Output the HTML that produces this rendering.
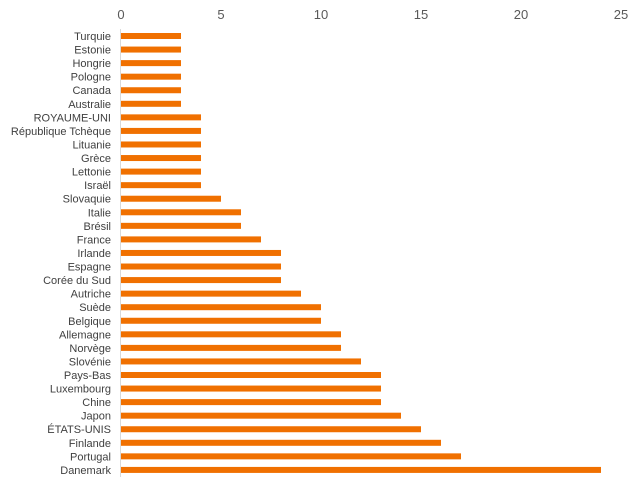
<!DOCTYPE html>
<html><head><meta charset="utf-8"><style>body{margin:0;background:#fff}svg{display:block}</style></head><body>
<svg width="640" height="489" xmlns="http://www.w3.org/2000/svg" font-family="Liberation Sans, Arial, sans-serif">
<g fill="#595959" font-size="13" text-anchor="middle">
<text x="121" y="19">0</text><text x="221" y="19">5</text><text x="321" y="19">10</text><text x="421" y="19">15</text><text x="521" y="19">20</text><text x="621" y="19">25</text>
</g>
<line x1="120.5" y1="29" x2="120.5" y2="477" stroke="#d9d9d9" stroke-width="1"/>
<g fill="#f07000">
<rect x="121" y="33" width="60" height="6"/>
<rect x="121" y="46.56" width="60" height="6"/>
<rect x="121" y="60.12" width="60" height="6"/>
<rect x="121" y="73.68" width="60" height="6"/>
<rect x="121" y="87.24" width="60" height="6"/>
<rect x="121" y="100.8" width="60" height="6"/>
<rect x="121" y="114.36" width="80" height="6"/>
<rect x="121" y="127.92" width="80" height="6"/>
<rect x="121" y="141.48" width="80" height="6"/>
<rect x="121" y="155.04" width="80" height="6"/>
<rect x="121" y="168.6" width="80" height="6"/>
<rect x="121" y="182.16" width="80" height="6"/>
<rect x="121" y="195.72" width="100" height="6"/>
<rect x="121" y="209.28" width="120" height="6"/>
<rect x="121" y="222.84" width="120" height="6"/>
<rect x="121" y="236.4" width="140" height="6"/>
<rect x="121" y="249.96" width="160" height="6"/>
<rect x="121" y="263.52" width="160" height="6"/>
<rect x="121" y="277.08" width="160" height="6"/>
<rect x="121" y="290.64" width="180" height="6"/>
<rect x="121" y="304.2" width="200" height="6"/>
<rect x="121" y="317.76" width="200" height="6"/>
<rect x="121" y="331.32" width="220" height="6"/>
<rect x="121" y="344.88" width="220" height="6"/>
<rect x="121" y="358.44" width="240" height="6"/>
<rect x="121" y="372" width="260" height="6"/>
<rect x="121" y="385.56" width="260" height="6"/>
<rect x="121" y="399.12" width="260" height="6"/>
<rect x="121" y="412.68" width="280" height="6"/>
<rect x="121" y="426.24" width="300" height="6"/>
<rect x="121" y="439.8" width="320" height="6"/>
<rect x="121" y="453.36" width="340" height="6"/>
<rect x="121" y="466.92" width="480" height="6"/>
</g>
<g fill="#404040" font-size="11" text-anchor="end">
<text x="111" y="40">Turquie</text>
<text x="111" y="53.56">Estonie</text>
<text x="111" y="67.12">Hongrie</text>
<text x="111" y="80.68">Pologne</text>
<text x="111" y="94.24">Canada</text>
<text x="111" y="107.8">Australie</text>
<text x="111" y="121.36">ROYAUME-UNI</text>
<text x="111" y="134.92">République Tchèque</text>
<text x="111" y="148.48">Lituanie</text>
<text x="111" y="162.04">Grèce</text>
<text x="111" y="175.6">Lettonie</text>
<text x="111" y="189.16">Israël</text>
<text x="111" y="202.72">Slovaquie</text>
<text x="111" y="216.28">Italie</text>
<text x="111" y="229.84">Brésil</text>
<text x="111" y="243.4">France</text>
<text x="111" y="256.96">Irlande</text>
<text x="111" y="270.52">Espagne</text>
<text x="111" y="284.08">Corée du Sud</text>
<text x="111" y="297.64">Autriche</text>
<text x="111" y="311.2">Suède</text>
<text x="111" y="324.76">Belgique</text>
<text x="111" y="338.32">Allemagne</text>
<text x="111" y="351.88">Norvège</text>
<text x="111" y="365.44">Slovénie</text>
<text x="111" y="379">Pays-Bas</text>
<text x="111" y="392.56">Luxembourg</text>
<text x="111" y="406.12">Chine</text>
<text x="111" y="419.68">Japon</text>
<text x="111" y="433.24">ÉTATS-UNIS</text>
<text x="111" y="446.8">Finlande</text>
<text x="111" y="460.36">Portugal</text>
<text x="111" y="473.92">Danemark</text>
</g>
</svg>
</body></html>
